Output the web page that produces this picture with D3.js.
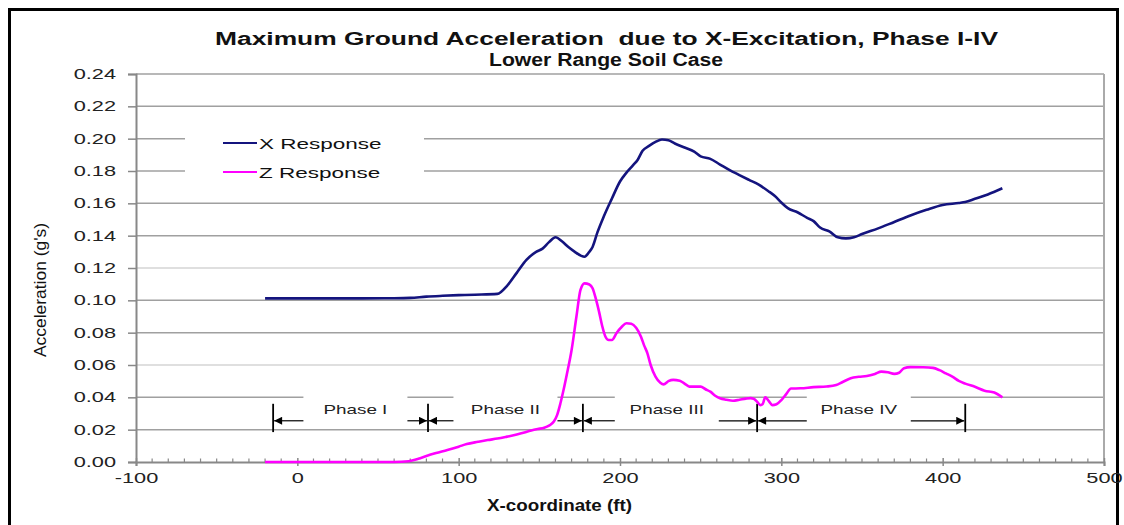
<!DOCTYPE html>
<html><head><meta charset="utf-8">
<script src="https://cdn.jsdelivr.net/npm/d3@7"></script>
<style>
html,body{margin:0;padding:0;background:#fff;}
text{font-family:Arial,"Liberation Sans",sans-serif;white-space:pre;}
</style></head>
<body><svg id="c" width="1124" height="525"></svg>
<script>
// ---------- data ----------
const titleLines = ["Maximum Ground Acceleration  due to X-Excitation, Phase I-IV", "Lower Range Soil Case"];
const xAxisTitle = "X-coordinate (ft)";
const yAxisTitle = "Acceleration (g's)";
const seriesNames = ["X Response", "Z Response"];
const xTicks = [-100, 0, 100, 200, 300, 400, 500];
const yTicks = [0, 0.02, 0.04, 0.06, 0.08, 0.10, 0.12, 0.14, 0.16, 0.18, 0.20, 0.22, 0.24];
const xResponse = [[-20,0.1012],[0,0.1012],[20,0.1012],[40,0.1012],[60,0.1013],[70,0.1015],[80,0.1023],[90,0.1028],[100,0.1032],[110,0.1035],[124,0.1040],
 [130,0.109],[136,0.117],[142,0.125],[148,0.130],[152,0.132],[156,0.136],[160,0.139],[164,0.1365],[168,0.133],[172,0.130],[176,0.1275],[178,0.127],[181,0.130],[183,0.133],[186,0.142],[190,0.152],[195,0.163],[200,0.1735],[204,0.179],[208,0.1835],[211,0.187],[214,0.1925],[218,0.1955],[222,0.198],[226,0.1995],[230,0.1990],[234,0.197],[240,0.1945],[246,0.192],[250,0.189],[256,0.1875],[262,0.184],[268,0.1805],[274,0.1775],[280,0.1745],[286,0.1715],[292,0.1675],[296,0.1645],[300,0.1605],[304,0.157],[310,0.1545],[316,0.151],[320,0.149],[324,0.145],[330,0.1425],[335,0.139],[340,0.1383],[345,0.139],[350,0.141],[360,0.1445],[370,0.1485],[380,0.1525],[390,0.156],[400,0.1590],[410,0.1602],[414,0.1608],[420,0.1628],[428,0.1655],[437,0.1693]];
const zResponse = [[-20,0],[0,0],[20,0],[40,0],[60,0],[69,0.0005],[75,0.002],[80,0.0037],[86,0.0055],[93,0.0074],[100,0.0095],[105,0.0111],[112,0.0125],[118,0.0136],[124,0.0145],[130,0.0157],[136,0.017],[140,0.0181],[145,0.0195],[149,0.0204],[153,0.0212],[156,0.0225],[159,0.025],[161,0.029],[163,0.036],[165,0.0445],[167,0.054],[170,0.0693],[173,0.09],[175.5,0.1064],[178,0.1105],[181,0.1098],[183,0.1075],[185,0.101],[187,0.093],[189,0.084],[191,0.0775],[193,0.0755],[195,0.0755],[198,0.080],[201,0.0835],[204,0.0858],[207,0.0855],[210,0.083],[213,0.0775],[215,0.072],[217,0.0672],[219,0.060],[222,0.0528],[225,0.049],[227,0.048],[230,0.050],[233,0.0508],[237,0.0503],[240,0.0485],[243,0.0466],[247,0.0466],[250,0.0466],[253,0.045],[256,0.0435],[259,0.041],[262,0.0394],[266,0.0385],[270,0.0379],[274,0.0385],[278,0.0392],[281,0.0395],[283,0.039],[285,0.0373],[287,0.0352],[288.5,0.036],[290,0.040],[292,0.038],[294.5,0.0352],[297,0.0357],[300,0.0383],[303,0.042],[306,0.0455],[309,0.0455],[312,0.0456],[320,0.0463],[328,0.0467],[334,0.0476],[338,0.0495],[343,0.0518],[348,0.0527],[353,0.0532],[358,0.0545],[362,0.0559],[366,0.0555],[370,0.0545],[373,0.0552],[376,0.058],[380,0.0587],[388,0.0586],[394,0.0582],[398,0.0568],[402,0.0548],[406,0.0528],[410,0.0502],[414,0.0485],[420,0.0465],[426,0.0441],[432,0.043],[437,0.0400]];
const phaseBounds = [-15, 81, 177, 285, 414];
const phaseNames = ["Phase I", "Phase II", "Phase III", "Phase IV"];
const phaseLabelX = [36, 129, 229, 348];
const phaseLabelY = 0.0325;
const phaseArrowY = 0.0255;
const phaseTickTop = 0.0360, phaseTickBottom = 0.0185;

// ---------- layout ----------
const svg = d3.select("#c");
const W = 1124, H = 525;
const m = {left:136, right:1104, top:74, bottom:462};
const x = d3.scaleLinear().domain([-100, 500]).range([m.left, m.right]);
const y = d3.scaleLinear().domain([0, 0.24]).range([m.bottom, m.top]);
const STRETCH = 1.5;
function stretch(sel, f){ sel.each(function(){ const l=this.getComputedTextLength(); d3.select(this).attr("textLength", l*f).attr("lengthAdjust","spacingAndGlyphs"); }); }

svg.append("rect").attr("width",W).attr("height",H).attr("fill","#fff");

// outer frame
svg.append("rect").attr("x",9.5).attr("y",9.5).attr("width",1108).attr("height",540)
  .attr("fill","none").attr("stroke","#000").attr("stroke-width",3);

// gridlines
svg.append("g").selectAll("line").data(yTicks.filter(d=>d>0)).join("line")
  .attr("x1",m.left).attr("x2",m.right)
  .attr("y1",d=>y(d)).attr("y2",d=>y(d))
  .attr("stroke",d=>(Math.abs(d-0.06)<1e-9||Math.abs(d-0.12)<1e-9)?"#d4d4d4":"#a0a0a0")
  .attr("stroke-width",1.5);

// y axis
const yAxis = svg.append("g").attr("transform",`translate(${m.left},0)`)
  .call(d3.axisLeft(y).tickValues(yTicks).tickFormat(d3.format(".2f")).tickSize(8).tickPadding(12));
yAxis.select(".domain").attr("stroke","#888").attr("stroke-width",2);
yAxis.selectAll(".tick line").attr("stroke","#888").attr("stroke-width",1.5);
yAxis.selectAll("text").attr("font-size",14.5).attr("fill","#222").attr("font-family","Arial, Liberation Sans").call(stretch, STRETCH);

// right border
svg.append("line").attr("x1",m.right).attr("x2",m.right).attr("y1",y(0.24)).attr("y2",m.bottom)
  .attr("stroke","#aaa").attr("stroke-width",2);

// x axis
const minor = d3.range(-100, 501, 10).filter(v => v % 100 !== 0);
svg.append("g").selectAll("line").data(minor).join("line")
  .attr("x1",d=>x(d)).attr("x2",d=>x(d)).attr("y1",m.bottom-3.5).attr("y2",m.bottom)
  .attr("stroke","#888").attr("stroke-width",1.2);
const xAxis = svg.append("g").attr("transform",`translate(0,${m.bottom})`)
  .call(d3.axisBottom(x).tickValues(xTicks).tickFormat(d => String(d)).tickSize(4).tickPadding(7));
xAxis.select(".domain").attr("stroke","#888").attr("stroke-width",2);
xAxis.selectAll(".tick line").attr("stroke","#888").attr("stroke-width",1.5).attr("y1",-4);
xAxis.selectAll("text").attr("font-size",14.5).attr("fill","#222").attr("font-family","Arial, Liberation Sans").call(stretch, STRETCH);

// phase annotation boxes (white, behind the series)
const ann = svg.append("g");
ann.selectAll("rect").data(phaseNames).join("rect")
  .attr("x",(d,i)=>x(phaseLabelX[i])-52).attr("width",104)
  .attr("y",y(0.0435)).attr("height",y(0.0235)-y(0.0435))
  .attr("fill","#fff");
// legend box
svg.append("rect").attr("x",185).attr("y",122).attr("width",239).attr("height",66).attr("fill","#fff");

// arrows
const defs = svg.append("defs");
defs.append("marker").attr("id","ah").attr("viewBox","0 0 10 10").attr("refX",10).attr("refY",5)
  .attr("markerWidth",10).attr("markerHeight",8).attr("markerUnits","userSpaceOnUse").attr("orient","auto-start-reverse")
  .append("path").attr("d","M0,0 L10,5 L0,10 z").attr("fill","#000");
const segs = phaseNames.map((n,i)=>[phaseBounds[i], phaseBounds[i+1]]);
segs.forEach((s,i)=>{
  const lx0 = x(phaseLabelX[i])-52, lx1 = x(phaseLabelX[i])+52;
  const a = x(s[0])+1, b = x(s[1])-1, yy = y(phaseArrowY);
  ann.append("line").attr("x1",lx0).attr("x2",a).attr("y1",yy).attr("y2",yy)
    .attr("stroke","#000").attr("stroke-width",1.2).attr("marker-end","url(#ah)");
  ann.append("line").attr("x1",lx1).attr("x2",b).attr("y1",yy).attr("y2",yy)
    .attr("stroke","#000").attr("stroke-width",1.2).attr("marker-end","url(#ah)");
});
ann.selectAll("line.bd").data(phaseBounds).join("line").attr("class","bd")
  .attr("x1",d=>x(d)).attr("x2",d=>x(d)).attr("y1",y(phaseTickTop)).attr("y2",y(phaseTickBottom))
  .attr("stroke","#000").attr("stroke-width",1.8);
ann.selectAll("text").data(phaseNames).join("text")
  .attr("x",(d,i)=>x(phaseLabelX[i])).attr("y",y(phaseLabelY)+5)
  .attr("text-anchor","middle").attr("font-size",13).attr("fill","#222").text(d=>d)
  .call(stretch, 1.45);

// series
const line = d3.line().x(d=>x(d[0])).y(d=>y(d[1])).curve(d3.curveMonotoneX);
const colors = ["#14147e", "#ff00ff"];
[xResponse, zResponse].forEach((s,i)=>{
  svg.append("path").datum(s).attr("d",line).attr("fill","none")
    .attr("stroke",colors[i]).attr("stroke-width",2.6).attr("stroke-linejoin","round");
});

// legend
const lg = svg.append("g");
seriesNames.forEach((n,i)=>{
  const yy = 143 + i*29;
  lg.append("line").attr("x1",223).attr("x2",257).attr("y1",yy).attr("y2",yy)
    .attr("stroke",colors[i]).attr("stroke-width",2.2);
  lg.append("text").attr("x",259).attr("y",yy+5.5).attr("font-size",15).attr("fill","#111").text(n).call(stretch, STRETCH);
});

// titles
svg.append("text").attr("x",606.5).attr("y",44.5).attr("text-anchor","middle")
  .attr("font-size",18).attr("font-weight","bold").attr("fill","#111")
  .attr("textLength",783).attr("lengthAdjust","spacingAndGlyphs").text(titleLines[0]);
svg.append("text").attr("x",606).attr("y",65.5).attr("text-anchor","middle")
  .attr("font-size",18).attr("font-weight","bold").attr("fill","#111")
  .attr("textLength",234).attr("lengthAdjust","spacingAndGlyphs").text(titleLines[1]);
svg.append("text").attr("x",559.5).attr("y",511).attr("text-anchor","middle")
  .attr("font-size",16).attr("font-weight","bold").attr("fill","#111")
  .attr("textLength",145).attr("lengthAdjust","spacingAndGlyphs").text(xAxisTitle);
svg.append("text").attr("transform","translate(46,290) rotate(-90)").attr("text-anchor","middle")
  .attr("font-size",17).attr("fill","#111")
  .attr("textLength",134).attr("lengthAdjust","spacingAndGlyphs").text(yAxisTitle);
</script></body></html>
